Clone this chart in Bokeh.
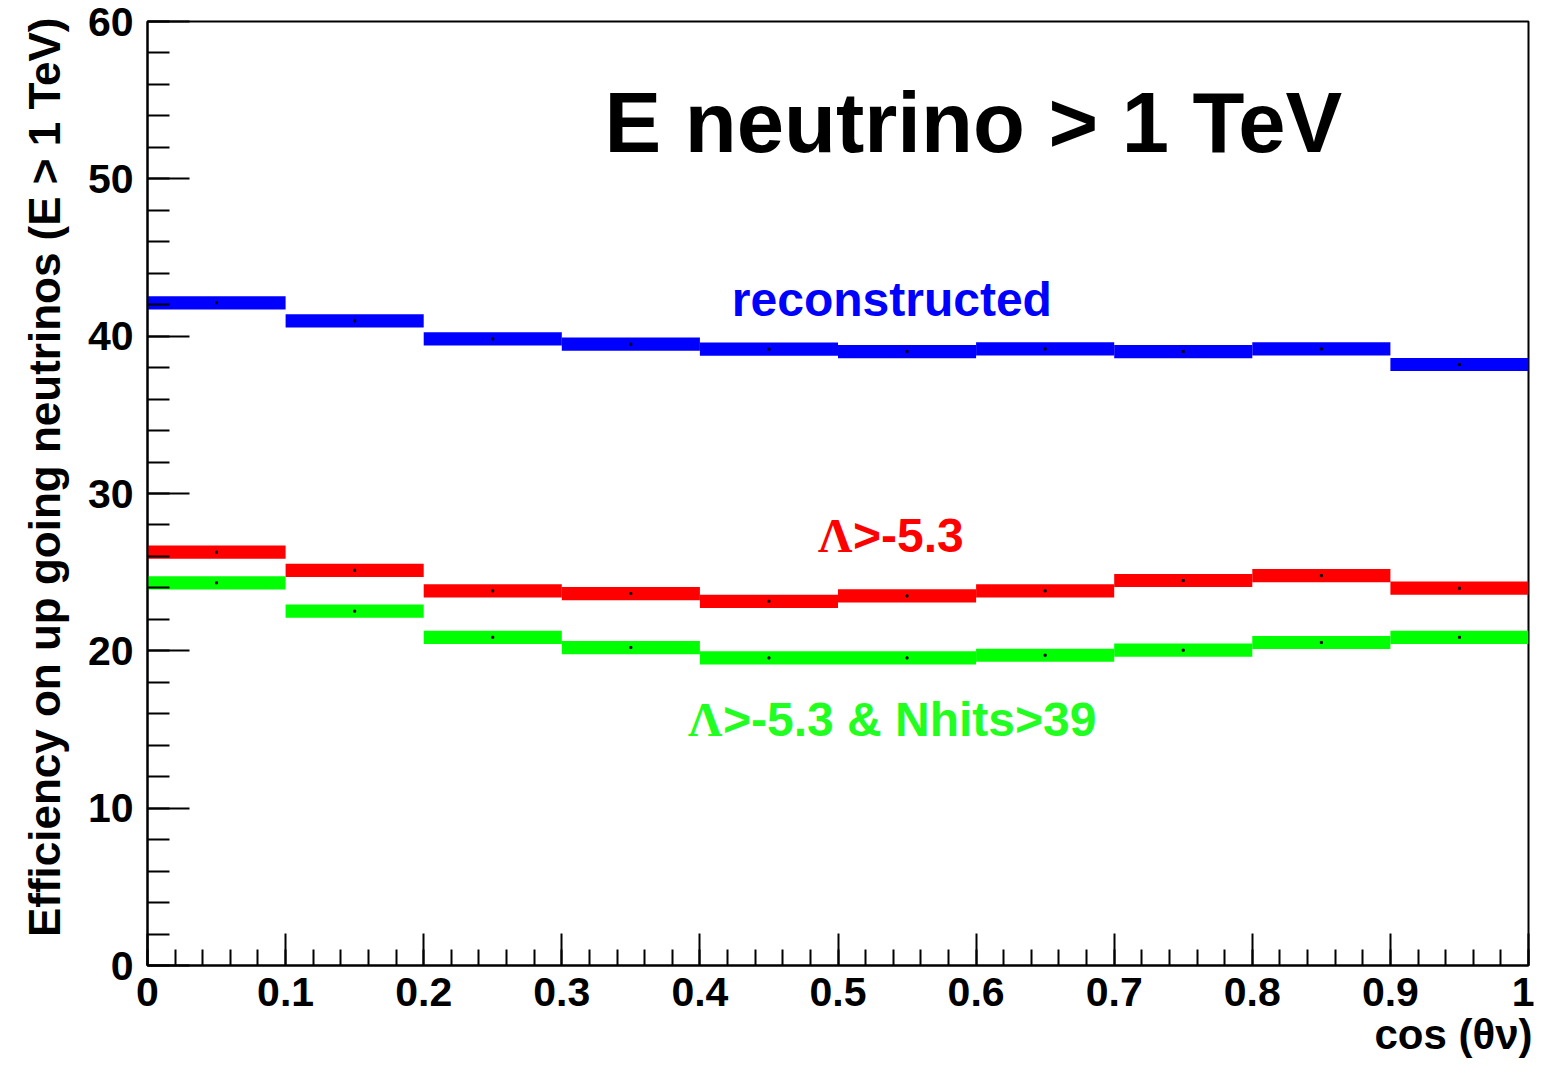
import math
from bokeh.plotting import figure
from bokeh.models import Range1d, FixedTicker, CustomJSTickFormatter, Label, Title, ColumnDataSource
from bokeh.embed import file_html
from bokeh.resources import INLINE

# ---- data ----
bin_left = [0.0, 0.1, 0.2, 0.3, 0.4, 0.5, 0.6, 0.7, 0.8, 0.9]
bin_right = [0.1, 0.2, 0.3, 0.4, 0.5, 0.6, 0.7, 0.8, 0.9, 1.0]
bin_center = [0.05, 0.15, 0.25, 0.35, 0.45, 0.55, 0.65, 0.75, 0.85, 0.95]
reconstructed = [42.12, 40.97, 39.83, 39.49, 39.17, 39.02, 39.19, 39.02, 39.19, 38.20]
lambda_cut = [26.27, 25.12, 23.81, 23.64, 23.15, 23.49, 23.81, 24.47, 24.78, 23.98]
lambda_nhits_cut = [24.32, 22.52, 20.86, 20.21, 19.55, 19.55, 19.72, 20.04, 20.53, 20.86]
error = [0.42] * 10
y_major_ticks = [0, 10, 20, 30, 40, 50, 60]
y_minor_ticks = list(range(0, 61, 2))
x_major_ticks = [0.0, 0.1, 0.2, 0.3, 0.4, 0.5, 0.6, 0.7, 0.8, 0.9, 1.0]
x_minor_ticks = [i / 50 for i in range(0, 51)]

FONT = "Liberation Sans"
SERIF = "Liberation Serif"

p = figure(frame_width=1381, frame_height=944, output_backend="svg", toolbar_location=None,
           x_range=Range1d(0, 1), y_range=Range1d(0, 60),
           min_border_left=147, min_border_right=6, min_border_top=21, min_border_bottom=93)
p.background_fill_color = "white"
p.border_fill_color = "white"
p.xgrid.visible = False
p.ygrid.visible = False
p.outline_line_color = "black"
p.outline_line_width = 2

series = [(reconstructed, "#0000ff"), (lambda_cut, "#ff0000"), (lambda_nhits_cut, "#00ff00")]
for vals, col in series:
    src = ColumnDataSource(dict(
        left=bin_left, right=bin_right, x=bin_center, y=vals,
        bottom=[v - e for v, e in zip(vals, error)],
        top=[v + e for v, e in zip(vals, error)]))
    p.quad(left="left", right="right", bottom="bottom", top="top", source=src,
           fill_color=col, line_color=None)
    p.scatter(x="x", y="y", source=src, marker="square", size=2, color="black")

# axes
xa = p.xaxis[0]
xa.ticker = FixedTicker(ticks=x_major_ticks, minor_ticks=x_minor_ticks)
xa.formatter = CustomJSTickFormatter(code="return tick.toFixed(1).replace(/\\.0$/, '');")
xa.major_tick_in = 32
xa.major_tick_out = 0
xa.minor_tick_in = 16
xa.minor_tick_out = 0
xa.major_label_standoff = 12

ya = p.yaxis[0]
ya.ticker = FixedTicker(ticks=y_major_ticks, minor_ticks=y_minor_ticks)
ya.major_tick_in = 42
ya.major_tick_out = 0
ya.minor_tick_in = 22
ya.minor_tick_out = 0
ya.major_label_standoff = 14

for ax in (xa, ya):
    ax.axis_line_width = 2
    ax.axis_line_color = "black"
    ax.major_tick_line_width = 2
    ax.minor_tick_line_width = 2
    ax.major_tick_line_color = "black"
    ax.minor_tick_line_color = "black"
    ax.major_label_text_font = FONT
    ax.major_label_text_font_style = "bold"
    ax.major_label_text_font_size = "41px"
    ax.major_label_text_color = "black"

# axis titles as side-panel titles
p.add_layout(Title(text="Efficiency on up going neutrinos (E > 1 TeV)", align="right",
                   text_font=FONT, text_font_style="bold", text_font_size="44px",
                   text_color="black", standoff=32, offset=-4), "left")
p.add_layout(Title(text="cos (\u03b8\u03bd)", align="right",
                   text_font=FONT, text_font_style="bold", text_font_size="42px",
                   text_color="black", standoff=0, offset=-4), "below")

def lab(x, y, text, size, color="black", align="left", font=FONT):
    p.add_layout(Label(x=x, y=y, text=text, text_font=font, text_font_style="bold",
                       text_font_size=size, text_color=color, text_align=align,
                       text_baseline="alphabetic"))

# title
lab(0.598, 53.55, "E neutrino > 1 TeV", "85px", align="center")
# series labels
lab(0.539, 42.3, "reconstructed", "48px", color="#0000ff", align="center")
lab(0.4855, 27.33, "\u039b", "48px", color="#ff0000", font=SERIF)
lab(0.5109, 27.33, ">-5.3", "48px", color="#ff0000")
lab(0.3914, 15.63, "\u039b", "48px", color="#20ff20", font=SERIF)
lab(0.4167, 15.63, ">-5.3 & Nhits>39", "48px", color="#20ff20")

open("out.html", "w").write(file_html(p, INLINE))
